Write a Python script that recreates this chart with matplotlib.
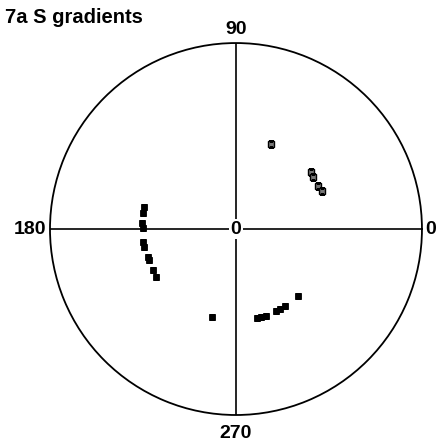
import numpy as np
import matplotlib
matplotlib.use("Agg")
import matplotlib.pyplot as plt

plt.rcParams["font.family"] = ["Liberation Sans", "DejaVu Sans"]

# gradient directions (degrees) and magnitudes
left_angle = [166.6, 170.2, 176.3, 179.4, 188.0, 191.1, 197.7, 199.6, 206.3, 211.0]
left_r = [0.509, 0.507, 0.506, 0.500, 0.505, 0.504, 0.496, 0.497, 0.498, 0.502]

bottom_angle = [254.7, 283.3, 285.9, 289.0, 296.0, 298.8, 302.5, 312.8]
bottom_r = [0.490, 0.492, 0.492, 0.495, 0.490, 0.491, 0.491, 0.491]

# open (hollow) markers in the upper right quadrant
upper_angle = [67.6, 37.2, 34.0, 27.7, 23.8]
upper_r = [0.494, 0.506, 0.500, 0.498, 0.505]

dir_labels = ["0", "90", "180", "270"]
dir_angles = [0, 90, 180, 270]
label_r = [1.048, 1.073, 1.11, 1.097]

fig = plt.figure(figsize=(4.46, 4.46), dpi=100)
ax = fig.add_axes([0.1121, 0.0695, 0.834, 0.834], projection="polar")
ax.set_ylim(0, 1)
ax.set_yticks([])
ax.set_xticks(np.deg2rad(dir_angles))
ax.set_xticklabels([])
ax.grid(True, color="black", lw=1.2)
ax.spines["polar"].set_linewidth(1.3)
ax.tick_params(axis="x", length=0, pad=0)

ax.plot(np.deg2rad(left_angle), left_r, "s", color="black", ms=5, mew=0.6)
ax.plot(np.deg2rad(bottom_angle), bottom_r, "s", color="black", ms=5, mew=0.6)
ax.plot(np.deg2rad(upper_angle), upper_r, "s", mfc="#777777", mec="black",
        ms=4.5, mew=1.0)

for lab, ang, rr in zip(dir_labels, dir_angles, label_r):
    ax.text(np.deg2rad(ang), rr, lab, ha="center", va="center",
            fontsize=14, fontweight="bold", clip_on=False)

ax.text(0, 0, "0", ha="center", va="center", fontsize=14, fontweight="bold",
        bbox=dict(facecolor="white", edgecolor="none", pad=1.0), zorder=5)

fig.text(0.011, 0.948, "7a S gradients", ha="left", va="baseline",
         fontsize=14.5, fontweight="bold")

fig.savefig("out.png", dpi=100)
